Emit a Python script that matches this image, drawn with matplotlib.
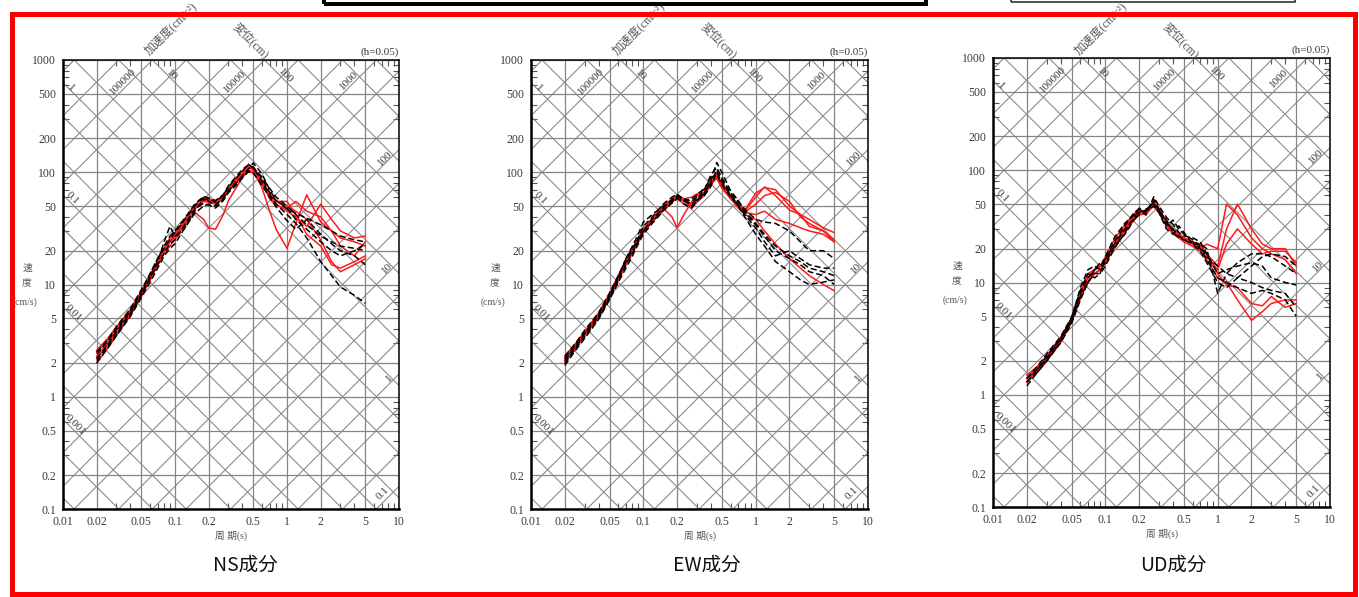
import numpy as np
import matplotlib
matplotlib.use("Agg")
import matplotlib.pyplot as plt
from matplotlib.patches import Rectangle

W, H = 1359, 597
SERIF = ['Liberation Serif', 'Noto Sans CJK JP']
CJK = ['Noto Sans CJK JP', 'DejaVu Sans']

# ---------------- data ----------------
periods = [0.02, 0.025, 0.03, 0.04, 0.05, 0.06, 0.07, 0.08, 0.09, 0.1, 0.12, 0.15, 0.18, 0.2, 0.23, 0.27,
           0.3, 0.35, 0.4, 0.45, 0.5, 0.6, 0.7, 0.8, 1.0, 1.2, 1.5, 2.0, 2.5, 3.0, 4.0, 5.0]

ns_black = [
    [2.1, 2.8, 3.6, 5.4, 8.0, 11.5, 16, 24, 33, 27, 31, 45, 57, 58, 54, 63, 74, 88, 102, 118, 110, 82, 63, 52, 42, 35, 26, 16, 12, 9.5, 8.0, 6.8],
    [2.5, 3.2, 4.2, 6.1, 9.0, 12.5, 17, 21, 25, 29, 37, 50, 59, 55, 51, 59, 69, 79, 93, 106, 121, 96, 70, 56, 47, 43, 39, 34, 30, 27, 25, 24],
    [2.2, 2.9, 3.8, 5.6, 8.2, 11.5, 15, 19, 23, 25, 33, 47, 53, 51, 48, 56, 66, 76, 89, 101, 99, 76, 60, 49, 37, 31, 38, 28, 23, 20, 18, 15],
    [2.4, 3.1, 4.0, 5.8, 8.6, 12.5, 17, 22, 27, 30, 38, 52, 61, 59, 56, 63, 76, 91, 106, 116, 109, 90, 72, 60, 50, 42, 34, 27, 24, 22, 21, 20],
    [2.0, 2.7, 3.5, 5.2, 7.6, 10.5, 14, 18, 21, 23, 31, 43, 50, 52, 50, 57, 67, 81, 91, 101, 111, 88, 66, 56, 48, 38, 31, 24, 20, 18, 20, 23],
]
ns_red = [
    [2.6, 3.3, 4.2, 6.0, 8.7, 12, 16, 20, 24, 26, 33, 44, 38, 32, 31, 42, 56, 72, 90, 102, 98, 78, 60, 52, 45, 40, 33, 52, 38, 30, 26, 27],
    [2.3, 3.0, 3.9, 5.7, 8.3, 11.5, 15, 19, 22, 25, 34, 48, 56, 57, 55, 61, 72, 86, 98, 112, 104, 72, 45, 31, 21, 35, 63, 36, 30, 22, 18, 24],
    [2.2, 2.9, 3.7, 5.5, 8.0, 11, 15, 19, 24, 28, 36, 49, 57, 56, 53, 60, 70, 84, 96, 108, 112, 85, 62, 55, 55, 42, 28, 22, 15, 14, 16, 18],
    [2.5, 3.2, 4.1, 5.9, 8.5, 12, 16, 21, 26, 29, 37, 51, 60, 58, 55, 62, 73, 88, 102, 114, 106, 84, 65, 55, 50, 45, 38, 25, 16, 13, 15, 17],
    [2.0, 2.7, 3.5, 5.3, 7.8, 11, 15, 20, 25, 27, 35, 47, 55, 54, 52, 58, 68, 80, 94, 104, 100, 80, 58, 50, 48, 55, 45, 40, 30, 26, 24, 22],
]

ew_black = [
    [2.0, 2.7, 3.4, 5.0, 7.5, 11, 15, 19, 24, 30, 38, 48, 57, 62, 58, 55, 60, 64, 85, 122, 100, 68, 56, 45, 35, 28, 22, 18, 16, 14, 13, 12],
    [2.2, 2.9, 3.7, 5.4, 8.0, 12, 16, 20, 26, 33, 40, 52, 60, 64, 57, 52, 58, 70, 95, 110, 90, 65, 55, 47, 38, 36, 35, 30, 24, 20, 20, 17],
    [2.1, 2.8, 3.6, 5.2, 7.8, 11.5, 17, 22, 28, 36, 42, 50, 55, 60, 52, 48, 56, 62, 75, 100, 82, 62, 50, 42, 32, 24, 18, 20, 17, 15, 14, 14],
    [2.3, 3.0, 3.9, 5.6, 8.4, 12, 17, 21, 25, 30, 36, 46, 53, 58, 55, 58, 63, 72, 88, 95, 78, 60, 50, 40, 28, 22, 16, 13, 11, 10, 10.5, 11],
    [1.9, 2.6, 3.3, 4.9, 7.3, 10.5, 14, 18, 23, 28, 35, 45, 54, 60, 56, 50, 55, 66, 80, 105, 85, 64, 52, 44, 34, 27, 20, 17, 15, 13, 12, 10],
]
ew_red = [
    [2.2, 2.9, 3.7, 5.5, 8.2, 12, 16, 21, 26, 31, 39, 50, 58, 62, 56, 52, 57, 66, 90, 96, 80, 62, 52, 46, 65, 73, 70, 50, 42, 38, 32, 29],
    [2.0, 2.7, 3.5, 5.1, 7.7, 11, 15, 19, 24, 29, 37, 48, 40, 32, 42, 55, 62, 70, 86, 98, 76, 60, 50, 45, 60, 74, 62, 46, 42, 33, 30, 25],
    [2.3, 3.0, 3.8, 5.6, 8.3, 12, 16, 20, 25, 30, 38, 49, 56, 62, 58, 60, 64, 70, 82, 92, 78, 60, 52, 44, 52, 62, 66, 55, 40, 35, 30, 24],
    [2.1, 2.8, 3.6, 5.3, 8.0, 11.5, 16, 20, 24, 29, 36, 46, 55, 60, 55, 50, 56, 64, 80, 90, 75, 58, 50, 44, 42, 45, 38, 35, 32, 30, 28, 24],
    [2.2, 2.9, 3.7, 5.4, 8.1, 12, 16, 20, 25, 30, 37, 47, 55, 58, 52, 48, 54, 62, 78, 88, 72, 58, 48, 42, 38, 30, 23, 17, 14, 12, 10, 8.8],
]

ud_black = [
    [1.3, 1.6, 2.0, 2.9, 4.3, 7.0, 10, 12, 12, 14, 20, 28, 38, 44, 42, 55, 45, 34, 30, 26, 24, 22, 22, 20, 8.0, 12, 15, 18, 18, 17, 14, 12],
    [1.4, 1.7, 2.1, 3.1, 4.6, 8.0, 11, 13, 14, 16, 23, 32, 42, 45, 40, 58, 48, 38, 33, 28, 26, 25, 23, 18, 12, 13, 14, 15, 14, 11, 10, 9.5],
    [1.3, 1.7, 2.2, 3.2, 4.8, 9.0, 13, 14, 13, 15, 21, 27, 36, 42, 45, 50, 44, 36, 28, 25, 24, 23, 20, 16, 11, 10, 9, 8, 8.5, 8.0, 7.0, 5.0],
    [1.4, 1.8, 2.3, 3.3, 4.9, 8.5, 12, 11, 12, 17, 25, 34, 40, 46, 43, 52, 42, 32, 36, 30, 27, 24, 21, 17, 14, 12, 11, 14, 17, 18, 17, 14],
    [1.2, 1.6, 2.0, 3.0, 4.5, 7.5, 10, 13, 15, 16, 22, 30, 37, 40, 44, 48, 42, 30, 27, 32, 28, 22, 19, 15, 10, 9, 11, 10, 9, 8.5, 8.0, 6.0],
]
ud_red = [
    [1.5, 1.8, 2.2, 3.2, 4.7, 8.0, 11, 13, 14, 16, 22, 31, 40, 44, 43, 53, 46, 35, 30, 27, 25, 23, 22, 18, 14, 30, 50, 30, 22, 20, 20, 14],
    [1.4, 1.7, 2.1, 3.0, 4.5, 7.5, 10, 12, 13, 15, 21, 29, 38, 42, 40, 50, 44, 33, 28, 26, 24, 22, 20, 22, 20, 50, 40, 25, 20, 18, 16, 12],
    [1.3, 1.7, 2.1, 3.1, 4.6, 7.8, 11, 12, 13, 15, 20, 28, 36, 40, 41, 48, 42, 32, 27, 25, 23, 21, 19, 17, 13, 22, 30, 22, 18, 19, 19, 15],
    [1.4, 1.8, 2.2, 3.2, 4.8, 8.2, 12, 13, 14, 17, 24, 33, 41, 45, 42, 54, 45, 34, 30, 27, 25, 22, 20, 16, 11, 10, 7.0, 4.6, 5.5, 6.5, 7.0, 7.0],
    [1.3, 1.6, 2.0, 2.9, 4.4, 7.2, 10, 12, 13, 15, 21, 30, 39, 43, 44, 51, 43, 33, 29, 27, 24, 22, 21, 18, 12, 9.5, 9.0, 6.5, 6.2, 7.5, 6.0, 6.5],
]

titles = ['NS成分', 'EW成分', 'UD成分']
x_ticks = [0.01, 0.02, 0.05, 0.1, 0.2, 0.5, 1, 2, 5, 10]
x_tick_labels = ['0.01', '0.02', '0.05', '0.1', '0.2', '0.5', '1', '2', '5', '10']
y_ticks = [0.1, 0.2, 0.5, 1, 2, 5, 10, 20, 50, 100, 200, 500, 1000]
y_tick_labels = ['0.1', '0.2', '0.5', '1', '2', '5', '10', '20', '50', '100', '200', '500', '1000']
disp_values = [m * 10.0 ** k for k in range(-5, 5) for m in (1, 2, 5)]
acc_values = [m * 10.0 ** k for k in range(-2, 8) for m in (1, 2, 5)]
# diagonal scale labels: (text, period, velocity, rotation)
diag_labels = [
    ('1', 0.0118, 560, -45), ('0.1', 0.0120, 58.6, -45), ('0.01', 0.0124, 5.54, -45), ('0.001', 0.0128, 0.56, -45),
    ('100000', 0.034, 640, 45), ('10', 0.094, 740, -45), ('10000', 0.343, 640, 45), ('100', 0.98, 720, -45),
    ('1000', 3.55, 663, 45),
    ('100', 7.47, 133, 45), ('10', 7.8, 13.9, 45), ('1', 8.1, 1.46, 45), ('0.1', 7.2, 0.138, 45),
]

panels_px = [(63, 60, 399, 509), (531, 60, 868, 509), (993, 58, 1330, 507)]
title_x = [245, 707, 1173]
datasets = [(ns_black, ns_red), (ew_black, ew_red), (ud_black, ud_red)]

fig = plt.figure(figsize=(W / 100, H / 100), dpi=100)
fig.patch.set_facecolor('white')


def fx(px):
    return px / W


def fy(py):
    return 1 - py / H


GRID = '#858585'
TXT = '#3a3a3a'
minor = [m * 10.0 ** k for k in (-2, -1, 0) for m in (3, 4, 6, 7, 8, 9)]
minor_y = [m * 10.0 ** k for k in (-1, 0, 1, 2) for m in (3, 4, 6, 7, 8, 9)]

for i, (x0, y0, x1, y1) in enumerate(panels_px):
    ax = fig.add_axes([fx(x0), fy(y1), (x1 - x0) / W, (y1 - y0) / H])
    ax.set_xscale('log')
    ax.set_yscale('log')
    ax.set_xlim(0.01, 10)
    ax.set_ylim(0.1, 1000)
    ax.set_xticks(x_ticks, labels=x_tick_labels)
    ax.set_yticks(y_ticks, labels=y_tick_labels)
    ax.set_xticks(minor, minor=True)
    ax.set_yticks(minor_y, minor=True)
    ax.tick_params(axis='both', which='minor', direction='in', length=4, width=0.8,
                   top=True, right=True, labelbottom=False, labelleft=False, color='#555')
    ax.tick_params(axis='both', which='major', length=0, labelsize=8.5, labelcolor=TXT)
    ax.tick_params(axis='x', which='major', pad=5)
    ax.tick_params(axis='y', which='major', pad=5)
    for lab in ax.get_xticklabels() + ax.get_yticklabels():
        lab.set_fontfamily(SERIF)
    ax.grid(True, which='major', color=GRID, lw=0.9, zorder=1)
    ax.set_axisbelow(True)
    for s in ('left', 'bottom'):
        ax.spines[s].set_linewidth(1.8)
    for s in ('top', 'right'):
        ax.spines[s].set_linewidth(1.1)

    tt = np.array([0.01, 10.0])
    for d in disp_values:
        ax.plot(tt, 2 * np.pi * d / tt, color=GRID, lw=0.75, zorder=1)
    for a in acc_values:
        ax.plot(tt, a * tt / (2 * np.pi), color=GRID, lw=0.75, zorder=1)

    for txt, t, v, rot in diag_labels:
        ax.text(t, v, txt, rotation=rot, ha='center', va='center', fontsize=8,
                color=TXT, family=SERIF, rotation_mode='anchor', zorder=2)

    blacks, reds = datasets[i]
    for k in range(len(blacks)):
        ax.plot(periods, reds[k], color='#ff1a1a', lw=1.1, zorder=3)
        ax.plot(periods, blacks[k], color='black', lw=1.1, ls=(0, (4, 2)), zorder=4)

    ax.text(1.0, 1.006, '(h=0.05)', transform=ax.transAxes, ha='right', va='bottom',
            fontsize=8, color=TXT, family=SERIF)

    # top axis titles
    fig.text(fx(x0 + 88), fy(57), '加速度(cm/s²)', rotation=45, ha='left', va='bottom',
             fontsize=8.5, color='#555', family=SERIF, rotation_mode='anchor')
    fig.text(fx(x0 + 188), fy(41), '変位(cm)', rotation=-45, ha='center', va='center',
             fontsize=8.5, color='#555', family=SERIF, rotation_mode='anchor')
    # y label
    fig.text(fx(x0 - 36), fy(y0 + 208), '速', ha='center', va='center', fontsize=7, color='#555', family=SERIF)
    fig.text(fx(x0 - 36), fy(y0 + 223), '度', ha='center', va='center', fontsize=7, color='#555', family=SERIF)
    fig.text(fx(x0 - 38), fy(y0 + 242), '(cm/s)', ha='center', va='center', fontsize=7, color='#555', family=SERIF)
    # x label
    fig.text(fx((x0 + x1) / 2), fy(y1 + 27), '周 期(s)', ha='center', va='center', fontsize=7,
             color='#555', family=SERIF)
    # panel title
    fig.text(fx(title_x[i]), fy(565), titles[i], ha='center', va='center', fontsize=14,
             color='#111', family=CJK)

# frame decorations
fig.patches.append(Rectangle((fx(12), fy(594)), (1355 - 12) / W, (594 - 14) / H, fill=False,
                             edgecolor='#ff0000', lw=3.6, transform=fig.transFigure, figure=fig, zorder=10))
fig.patches.append(Rectangle((fx(324), fy(4)), (925.5 - 324) / W, 40 / H, fill=False,
                             edgecolor='black', lw=2.9, transform=fig.transFigure, figure=fig, zorder=10))
fig.patches.append(Rectangle((fx(1011), fy(2)), (1295 - 1011) / W, 40 / H, fill=False,
                             edgecolor='#222', lw=1.1, transform=fig.transFigure, figure=fig, zorder=10))

fig.savefig('out.png', dpi=100, facecolor='white')
